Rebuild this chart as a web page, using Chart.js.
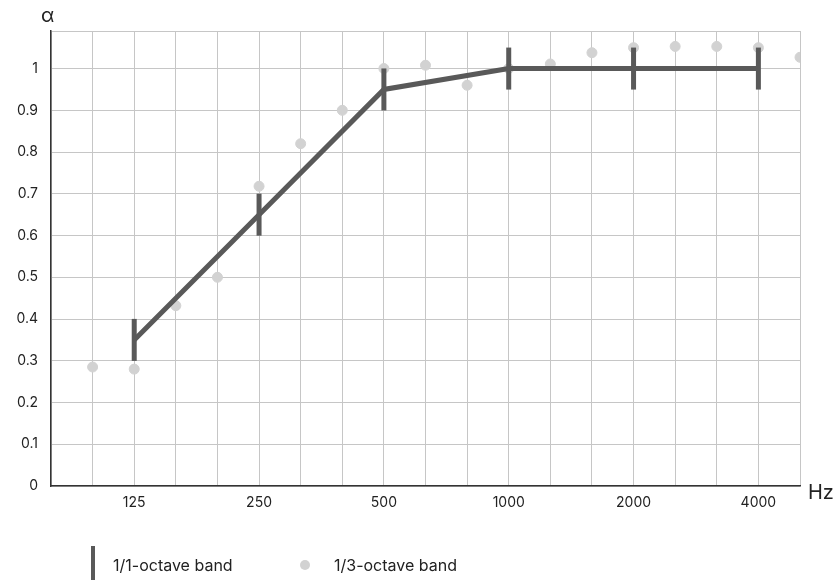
<!DOCTYPE html>
<html>
<head>
<meta charset="utf-8">
<script src="https://cdn.jsdelivr.net/npm/chart.js@4"></script>
<style>
  html, body { margin: 0; padding: 0; background: #fff; }
  #wrap { position: relative; width: 839px; height: 581px; font-family: Inter, "Noto Sans", sans-serif; color: #222; }
  #c { position: absolute; left: 0; top: 0; }
  .lbl { position: absolute; font-size: 20px; color: #222; }
  .legend { position: absolute; font-size: 16px; color: #222; top: 555px; }
  .bar { position: absolute; left: 91px; top: 546px; width: 4px; height: 34px; background: #595959; }
  .dot { position: absolute; left: 300px; top: 560px; width: 10px; height: 10px; border-radius: 50%; background: #d2d2d2; }
</style>
</head>
<body>
<div id="wrap">
  <canvas id="c" width="839" height="581"></canvas>
  <div class="lbl" style="left:41px; top:3px;">α</div>
  <div class="lbl" style="left:808px; top:480px;">Hz</div>
  <div class="bar"></div>
  <div class="legend" style="left:113px;">1/1-octave band</div>
  <div class="dot"></div>
  <div class="legend" style="left:334px;">1/3-octave band</div>
</div>
<script>
const bands = ['100', '125', '160', '200', '250', '315', '400', '500', '630', '800',
  '1000', '1250', '1600', '2000', '2500', '3150', '4000', '5000'];
const thirdOctave = [0.285, 0.28, 0.432, 0.50, 0.718, 0.82, 0.90, 1.0, 1.008, 0.96,
  1.0, 1.011, 1.038, 1.05, 1.053, 1.053, 1.05, 1.027];
const octaveBands = ['125', '250', '500', '1000', '2000', '4000'];
const octave = [0.35, 0.65, 0.95, 1.0, 1.0, 1.0];
const yTicks = [0, 0.1, 0.2, 0.3, 0.4, 0.5, 0.6, 0.7, 0.8, 0.9, 1];

const thirdPoints = bands.map((b, i) => ({ x: i, y: thirdOctave[i] }));
const octavePoints = octaveBands.map((b, i) => ({ x: bands.indexOf(b), y: octave[i] }));

Chart.defaults.font.family = 'Inter, "Noto Sans", sans-serif';
Chart.defaults.color = '#222';

new Chart(document.getElementById('c'), {
  type: 'scatter',
  data: {
    datasets: [
      {
        label: '1/1-octave band',
        data: octavePoints,
        showLine: true,
        borderColor: '#595959',
        borderWidth: 5,
        pointStyle: 'line',
        pointRotation: 90,
        pointRadius: 21,
        pointHoverRadius: 21,
        pointBorderWidth: 5,
        pointBorderColor: '#595959',
        order: 1
      },
      {
        label: '1/3-octave band',
        data: thirdPoints,
        backgroundColor: '#d2d2d2',
        borderColor: '#d2d2d2',
        pointRadius: 5,
        pointHoverRadius: 5,
        order: 2
      }
    ]
  },
  options: {
    responsive: false,
    animation: false,
    layout: { padding: { left: 0, top: 31, right: 39, bottom: 60 } },
    plugins: { legend: { display: false }, tooltip: { enabled: false } },
    scales: {
      x: {
        type: 'linear',
        min: -1,
        max: 17,
        afterFit: (s) => { s.height = 35; },
        afterBuildTicks: (s) => { s.ticks = bands.map((b, i) => ({ value: i - 1 })).concat([{ value: 17 }]); },
        ticks: {
          autoSkip: false,
          maxRotation: 0,
          padding: 8,
          font: { size: 14 },
          color: '#222',
          callback: (v) => (v >= 0 && octaveBands.includes(bands[v])) ? bands[v] : ''
        },
        grid: { color: '#c6c6c6', lineWidth: 1, drawTicks: false },
        border: { color: '#333', width: 1.5 }
      },
      y: {
        min: 0,
        max: 1.09,
        afterFit: (s) => { s.width = 51; },
        afterBuildTicks: (s) => { s.ticks = yTicks.map(v => ({ value: v })).concat([{ value: 1.09 }]); },
        ticks: {
          padding: 13,
          font: { size: 14 },
          color: '#222',
          callback: (v) => v > 1.05 ? '' : String(Math.round(v * 10) / 10)
        },
        grid: { color: '#c6c6c6', lineWidth: 1, drawTicks: false },
        border: { color: '#333', width: 1.5 }
      }
    }
  }
});
</script>
</body>
</html>
